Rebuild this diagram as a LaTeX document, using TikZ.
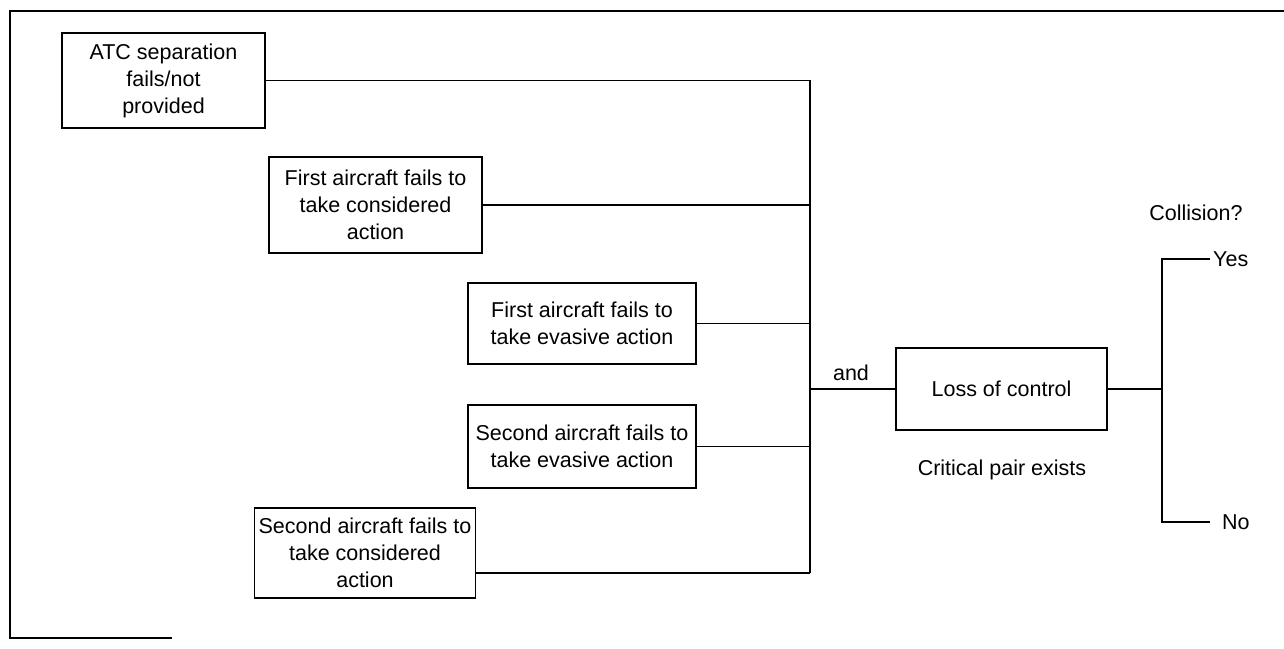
\documentclass[tikz,border=0pt]{standalone}
\usepackage{fontspec}
\setmainfont{Liberation Sans}
\begin{document}
\begin{tikzpicture}[x=1pt,y=-1pt,
  every node/.style={font=\fontsize{21.5}{27}\selectfont},
  evbox/.style={draw, line width=1.6pt, align=center, inner sep=0pt},
  wire/.style={line width=1.1pt},
  frameline/.style={line width=1.3pt}]
\useasboundingbox (0,0) rectangle (1284,648);
% frame (as printed: open on the right)
\draw[frameline] (1284,11) -- (10,11) -- (10,638) -- (172,638);
% event boxes
\node[evbox, minimum width=203pt, minimum height=95pt] (b1) at (163.5,80.5) {ATC separation\\fails/not\\provided};
\node[evbox, minimum width=213pt, minimum height=96pt] (b2) at (375.5,205) {First aircraft fails to\\take considered\\action};
\node[evbox, minimum width=228pt, minimum height=81pt] (b3) at (582,323.5) {First aircraft fails to\\take evasive action};
\node[evbox, minimum width=228pt, minimum height=83pt] (b4) at (582,446.5) {Second aircraft fails to\\take evasive action};
\node[evbox, minimum width=221pt, minimum height=90pt] (b5) at (365,553) {Second aircraft fails to\\take considered\\action};
\node[evbox, minimum width=211pt, minimum height=82pt] (loc) at (1001.5,389) {Loss of control};
% bus
\coordinate (j1) at (810,80);
\coordinate (j5) at (810,573);
\coordinate (ja) at (810,389);
\draw[wire] (j1) -- (j5);
\draw[wire] (b1.east) -- (b1.east -| j1);
\draw[wire] (b2.east) -- (b2.east -| j1);
\draw[wire] (b3.east) -- (b3.east -| j1);
\draw[wire] (b4.east) -- (b4.east -| j1);
\draw[wire] (j5) -- (j5 -| b5.east);
\draw[wire] (ja) -- (loc.west);
\node (andlbl) at (851,373) {and};
\node (crit) at (1002,470) {Critical pair exists};
% outcome branch
\coordinate (br) at (1162,389);
\coordinate (cy) at (1162,259);
\coordinate (cn) at (1162,522);
\node[anchor=west, inner xsep=3pt, inner ysep=0pt] (yes) at (1210,259) {Yes};
\node[anchor=west, inner xsep=12pt, inner ysep=0pt] (no) at (1210,522) {No};
\node (coll) at (1196,213) {Collision?};
\draw[wire] (loc.east) -- (br);
\draw[wire, line width=1.4pt] (yes.west) -- (cy) -- (cn) -- (no.west);
\end{tikzpicture}
\end{document}
